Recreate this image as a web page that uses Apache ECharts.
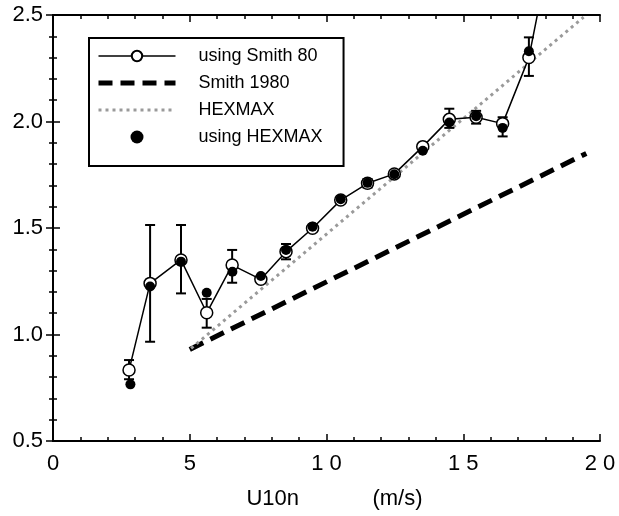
<!DOCTYPE html>
<html>
<head>
    <meta charset="utf-8" />
    <title>Cd vs U10n</title>
    <script src="https://cdn.jsdelivr.net/npm/echarts@6/dist/echarts.min.js"></script>
</head>
<body style="margin:0">
    <div id="main" style="width:619px;height:516px;"></div>
    <script type="text/javascript">
        // open circles (using Smith 80), last point is off the top of the plot
        var smithX = [2.78, 3.55, 4.68, 5.62, 6.55, 7.6, 8.52, 9.49, 10.52, 11.5, 12.48, 13.52, 14.49, 15.47, 16.44, 17.4, 18.45];
        var smithY = [0.833, 1.24, 1.35, 1.102, 1.326, 1.259, 1.389, 1.499, 1.631, 1.71, 1.754, 1.882, 2.01, 2.02, 1.99, 2.30, 2.98];
        // error bars on the open circles
        var errX = [2.78, 3.55, 4.68, 5.62, 6.55, 8.52, 11.5, 14.49, 15.47, 16.44, 17.4];
        var errLow = [0.79, 0.966, 1.193, 1.032, 1.243, 1.353, 1.69, 1.97, 1.99, 1.93, 2.214];
        var errHigh = [0.88, 1.514, 1.514, 1.167, 1.397, 1.425, 1.73, 2.06, 2.05, 2.02, 2.395];
        // filled dots (using HEXMAX)
        var hexX = [2.83, 3.55, 4.68, 5.62, 6.56, 7.6, 8.52, 9.49, 10.52, 11.5, 12.48, 13.52, 14.49, 15.47, 16.44, 17.4];
        var hexY = [0.766, 1.225, 1.342, 1.196, 1.295, 1.275, 1.397, 1.506, 1.635, 1.712, 1.752, 1.863, 1.995, 2.025, 1.97, 2.33];
        // reference lines (end points)
        var smith1980X = [5.0, 19.5];
        var smith1980Y = [0.93, 1.85];
        var hexmaxX = [5.05, 19.4];
        var hexmaxY = [0.935, 2.49];

        function pairs(xs, ys) {
            var out = [];
            for (var i = 0; i < xs.length; i++) {
                out.push([xs[i], ys[i]]);
            }
            return out;
        }

        var smithData = pairs(smithX, smithY);
        // the point above the top edge only feeds the line
        smithData[smithData.length - 1] = { value: smithData[smithData.length - 1], symbol: 'none' };

        var errData = [];
        for (var i = 0; i < errX.length; i++) {
            errData.push([errX[i], errLow[i], errHigh[i]]);
        }

        var font = 'Liberation Sans, Arial, Helvetica, sans-serif';
        var axisCommon = {
            type: 'value',
            axisLine: { show: true, lineStyle: { color: '#000', width: 2 } },
            axisTick: { show: true, inside: true, length: 7, lineStyle: { color: '#000', width: 1.5 } },
            minorTick: { show: true, splitNumber: 5, length: 4, lineStyle: { color: '#000', width: 1.5 } },
            splitLine: { show: false }
        };

        var myChart = echarts.init(document.getElementById('main'));
        var option = {
            animation: false,
            backgroundColor: '#fff',
            grid: { left: 53, right: 19, top: 15, bottom: 75 },
            legend: {
                orient: 'vertical',
                left: 89,
                top: 38,
                padding: [9, 21, 20, 7],
                borderColor: '#000',
                borderWidth: 2,
                itemWidth: 77,
                itemHeight: 13,
                itemGap: 9,
                textStyle: { fontFamily: font, fontSize: 18, color: '#000', padding: [0, 0, 0, 18] },
                data: [
                    { name: 'using Smith 80', lineStyle: { width: 1.5, color: '#000' } },
                    { name: 'Smith 1980', itemStyle: { opacity: 0 }, lineStyle: { width: 5, color: '#000', type: [14, 8] } },
                    { name: 'HEXMAX', itemStyle: { opacity: 0 }, lineStyle: { width: 3, color: '#9a9a9a', type: [3, 4] } },
                    'using HEXMAX'
                ]
            },
            xAxis: [
                Object.assign({}, axisCommon, {
                    min: 0, max: 20, interval: 5,
                    position: 'bottom',
                    name: 'U10n            (m/s)',
                    nameLocation: 'middle',
                    nameGap: 47,
                    nameTextStyle: { fontFamily: font, fontSize: 22, color: '#000', padding: [0, 0, 0, 16] },
                    axisLabel: {
                        fontFamily: font, fontSize: 22, color: '#000', margin: 12,
                        formatter: function (v) { return String(v).split('').join(' '); }
                    }
                }),
                Object.assign({}, axisCommon, {
                    min: 0, max: 20, interval: 5,
                    position: 'top',
                    axisLabel: { show: false }
                })
            ],
            yAxis: [
                Object.assign({}, axisCommon, {
                    min: 0.5, max: 2.5, interval: 0.5,
                    position: 'left',
                    axisLabel: {
                        fontFamily: font, fontSize: 22, color: '#000', margin: 10,
                        formatter: function (v) { return v.toFixed(1); }
                    }
                }),
                Object.assign({}, axisCommon, {
                    min: 0.5, max: 2.5, interval: 0.5,
                    position: 'right',
                    axisLabel: { show: false }
                })
            ],
            series: [
                {
                    name: 'Smith 1980',
                    type: 'line',
                    data: pairs(smith1980X, smith1980Y),
                    symbol: 'none',
                    lineStyle: { color: '#000', width: 5, type: [15, 8] },
                    itemStyle: { color: '#000' },
                    z: 2
                },
                {
                    name: 'HEXMAX',
                    type: 'line',
                    data: pairs(hexmaxX, hexmaxY),
                    symbol: 'none',
                    lineStyle: { color: '#9a9a9a', width: 3, type: [3, 4] },
                    itemStyle: { color: '#9a9a9a' },
                    z: 2
                },
                {
                    name: 'errors',
                    type: 'custom',
                    data: errData,
                    encode: { x: 0, y: [1, 2] },
                    z: 3,
                    renderItem: function (params, api) {
                        var lo = api.coord([api.value(0), api.value(1)]);
                        var hi = api.coord([api.value(0), api.value(2)]);
                        var w = 5;
                        var st = { stroke: '#000', lineWidth: 2 };
                        return {
                            type: 'group',
                            children: [
                                { type: 'line', shape: { x1: lo[0], y1: lo[1], x2: hi[0], y2: hi[1] }, style: st },
                                { type: 'line', shape: { x1: lo[0] - w, y1: lo[1], x2: lo[0] + w, y2: lo[1] }, style: st },
                                { type: 'line', shape: { x1: hi[0] - w, y1: hi[1], x2: hi[0] + w, y2: hi[1] }, style: st }
                            ]
                        };
                    }
                },
                {
                    name: 'using Smith 80',
                    type: 'line',
                    data: smithData,
                    symbol: 'circle',
                    symbolSize: 12,
                    clip: true,
                    lineStyle: { color: '#000', width: 1.5 },
                    itemStyle: { color: '#fff', borderColor: '#000', borderWidth: 1.5 },
                    z: 4
                },
                {
                    name: 'using HEXMAX',
                    type: 'scatter',
                    data: pairs(hexX, hexY),
                    symbol: 'circle',
                    symbolSize: 10,
                    itemStyle: { color: '#000', opacity: 1 },
                    z: 5
                }
            ]
        };
        myChart.setOption(option);
    </script>
</body>
</html>
